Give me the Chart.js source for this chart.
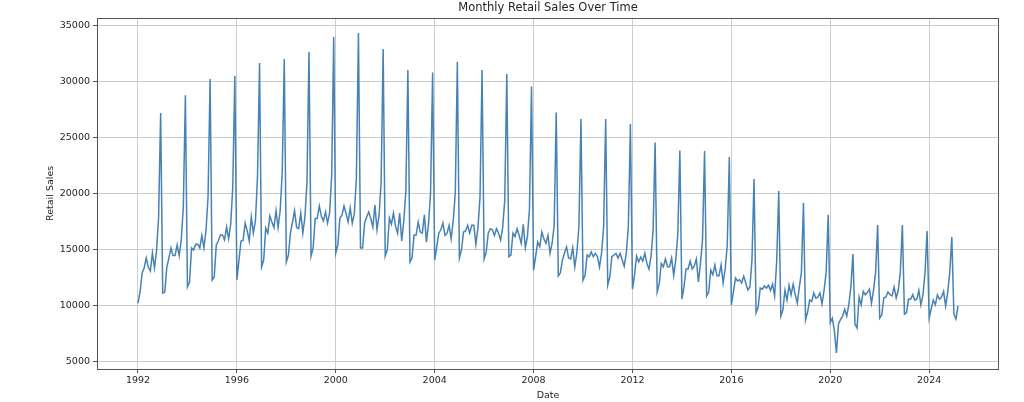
<!DOCTYPE html>
<html>
<head>
<meta charset="utf-8">
<title>Monthly Retail Sales Over Time</title>
<script src="https://cdn.jsdelivr.net/npm/chart.js@4.4.1/dist/chart.umd.min.js"></script>
<style>
  html, body { margin: 0; padding: 0; background: #fff; }
  #wrap { width: 1024px; height: 402px; }
</style>
</head>
<body>
<div id="wrap"><canvas id="salesChart" width="1024" height="402"></canvas></div>
<script>
// Monthly values, Jan 1992 -> Mar 2025, one line per year
const startYear = 1992;
const sales = [
  10260, 11250, 12940, 13390, 14280, 13480, 13120, 14730, 13390, 14900, 17950, 27230, // 1992
  11160, 11250, 13480, 14280, 15180, 14500, 14500, 15450, 14500, 15900, 18840, 28800, // 1993
  11700, 12140, 15180, 15000, 15500, 15500, 15180, 16300, 15200, 16700, 19730, 30270, // 1994
  12320, 12590, 15450, 15800, 16330, 16330, 15900, 17050, 16000, 17300, 20620, 30530, // 1995
  12320, 14100, 15800, 15850, 17400, 16700, 15800, 17950, 16500, 17600, 21500, 31700, // 1996
  13480, 14100, 16950, 16500, 18050, 17500, 17000, 18500, 17000, 18500, 21900, 32050, // 1997
  13930, 14550, 16500, 17500, 18500, 17000, 16900, 18300, 16500, 17900, 21000, 32680, // 1998
  14460, 15180, 17800, 17800, 18930, 18000, 17600, 18400, 17400, 18300, 21600, 34020, // 1999
  14730, 15450, 17850, 18100, 18930, 18250, 17500, 18750, 17400, 18250, 21400, 34375, // 2000
  15180, 15180, 17400, 17950, 18400, 17800, 17050, 19000, 16800, 18100, 21000, 32950, // 2001
  14460, 15000, 17850, 17300, 18300, 17100, 16500, 18300, 15800, 17600, 20200, 31070, // 2002
  13930, 14280, 16330, 16330, 17500, 16600, 16500, 18130, 15700, 17300, 20090, 30850, // 2003
  14100, 15270, 16500, 16800, 17400, 16300, 16500, 17200, 16000, 17600, 20100, 31800, // 2004
  14280, 15000, 16600, 16700, 17200, 16500, 17200, 17200, 15500, 17000, 19700, 31070, // 2005
  14200, 14800, 16500, 16900, 16800, 16300, 16900, 16500, 15900, 17000, 19400, 30710, // 2006
  14400, 14550, 16500, 16200, 16900, 16300, 15600, 17300, 15200, 16200, 18600, 29600, // 2007
  13200, 14400, 15700, 15300, 16600, 16000, 15600, 16300, 14700, 15600, 17200, 27260, // 2008
  12680, 12950, 14100, 14730, 15270, 14280, 14200, 15200, 13480, 14730, 17050, 26700, // 2009
  12320, 12770, 14550, 14400, 14820, 14400, 14700, 14400, 13480, 14730, 17050, 26700, // 2010
  11870, 12590, 14400, 14550, 14700, 14280, 14700, 14100, 13550, 14730, 17050, 26250, // 2011
  11510, 12770, 14460, 13930, 14370, 14000, 14700, 13800, 13300, 14400, 16700, 24600, // 2012
  11250, 12000, 13800, 13500, 14200, 13500, 13500, 14280, 12740, 14100, 16400, 23870, // 2013
  10620, 11700, 13300, 13300, 14020, 13300, 13570, 14200, 12140, 13800, 15900, 23840, // 2014
  10890, 11250, 13200, 12800, 13660, 12700, 12700, 13660, 12040, 13300, 15400, 23300, // 2015
  10100, 11250, 12500, 12240, 12350, 12050, 12650, 12050, 11430, 11700, 14100, 21330, // 2016
   9400,  9900, 11600, 11500, 11780, 11600, 11850, 11400, 11950, 10890, 14000, 20270, // 2017
   9100,  9640, 11400, 10530, 11850, 11000, 11950, 11000, 10270, 11700, 13000, 19200, // 2018
   8750,  9460, 10530, 10400, 11160, 10700, 10800, 11160, 10200, 11400, 13000, 18150, // 2019
   8500,  8900,  7800,  5800,  8400,  8800,  9100,  9700,  9100, 10100, 11700, 14640, // 2020
   8390,  8040, 10800, 10100, 11300, 11000, 11200, 11500, 10250, 11400, 13000, 17230, // 2021
   8920,  9190, 10710, 10800, 11250, 11000, 10900, 11700, 10710, 11400, 13000, 17230, // 2022
   9280,  9400, 10620, 10600, 11000, 10530, 10600, 11400, 10100, 11000, 13000, 16700, // 2023
   8920,  9730, 10530, 10100, 11000, 10600, 10800, 11300, 10000, 11200, 13000, 16160, // 2024
   9280,  8830, 10000                                                                  // 2025
];
const xTicks = [1992, 1996, 2000, 2004, 2008, 2012, 2016, 2020, 2024];
const yTicks = [5000, 10000, 15000, 20000, 25000, 30000, 35000];

// date as decimal year (month start)
const points = sales.map((v, i) => ({ x: startYear + i / 12, y: v }));

Chart.defaults.font.family = "'DejaVu Sans', sans-serif";
Chart.defaults.color = '#262626';

// matplotlib-style box around the plot area
const framePlugin = {
  id: 'frame',
  afterDatasetsDraw(chart) {
    const { ctx, chartArea: a } = chart;
    ctx.save();
    ctx.strokeStyle = '#555';
    ctx.lineWidth = 1;
    ctx.strokeRect(Math.round(a.left) + 0.5, Math.round(a.top) + 0.5,
      Math.round(a.right - a.left) - 1, Math.round(a.bottom - a.top));
    ctx.restore();
  }
};

const ctx = document.getElementById('salesChart').getContext('2d');
new Chart(ctx, {
  type: 'line',
  data: {
    datasets: [{
      label: 'Retail Sales',
      data: points,
      borderColor: '#4682b4',
      borderWidth: 1.5,
      pointRadius: 0,
      tension: 0,
      fill: false
    }]
  },
  options: {
    responsive: false,
    animation: false,
    layout: { padding: { left: 0, right: 25, top: 0, bottom: 0 } },
    plugins: {
      legend: { display: false },
      tooltip: { enabled: false },
      title: {
        display: true,
        text: 'Monthly Retail Sales Over Time',
        fullSize: false,
        color: '#262626',
        font: { size: 11.5, weight: 'normal' },
        padding: { top: 1, bottom: 3 }
      }
    },
    scales: {
      x: {
        type: 'linear',
        min: 1990.342,
        max: 2026.825,
        afterBuildTicks: s => { s.ticks = xTicks.map(v => ({ value: v })); },
        afterFit: s => { s.height = 33; },
        grid: { color: '#cccccc', tickColor: '#555', tickLength: 4 },
        border: { display: false },
        ticks: { autoSkip: false, maxRotation: 0, padding: 2, font: { size: 9.5 }, callback: v => String(v) },
        title: { display: true, text: 'Date', font: { size: 9.5 }, padding: { top: 0, bottom: 1 } }
      },
      y: {
        min: 4375,
        max: 35725,
        afterBuildTicks: s => { s.ticks = yTicks.map(v => ({ value: v })); },
        afterFit: s => { s.width = 97; },
        grid: { color: '#cccccc', tickColor: '#555', tickLength: 4 },
        border: { display: false },
        ticks: { padding: 3, font: { size: 9.5 }, callback: v => String(v) },
        title: { display: true, text: 'Retail Sales', font: { size: 9.5 }, padding: { top: 45, bottom: 0 } }
      }
    }
  },
  plugins: [framePlugin]
});
</script>
</body>
</html>
